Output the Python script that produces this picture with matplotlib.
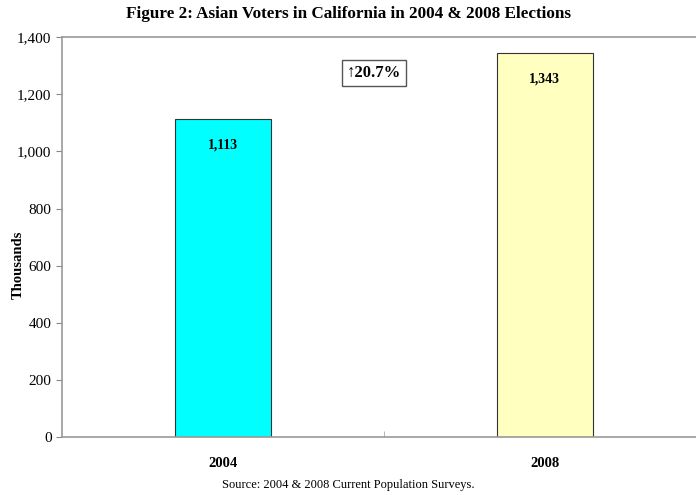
import matplotlib
matplotlib.use('Agg')
import matplotlib.pyplot as plt
from matplotlib.ticker import FuncFormatter

plt.rcParams['font.family'] = ['Liberation Serif', 'DejaVu Serif']

# données
years = ['2004', '2008']
voters = [1113, 1343]
bar_colors = ['#00FFFF', '#FFFFC0']
change_label = '\u219120.7%'
y_ticks = [0, 200, 400, 600, 800, 1000, 1200, 1400]

fig = plt.figure(figsize=(6.96, 4.95), dpi=100)
ax = fig.add_axes([0.089, 0.117, 0.925, 0.808])

x = range(len(years))
bars = ax.bar(x, voters, width=0.30, color=bar_colors, edgecolor='#333333', linewidth=0.8)

# valeurs dans les barres
for b, v in zip(bars, voters):
    ax.text(b.get_x() + b.get_width() / 2, v - 90, f'{v:,}', ha='center', va='center',
            fontsize=10, fontweight='bold')

ax.text(0.47, 1274, change_label, ha='center', va='center', fontsize=12, fontweight='bold',
        bbox=dict(boxstyle='square,pad=0.3', facecolor='white', edgecolor='#555555', linewidth=1))

ax.set_xlim(-0.5, 1.5)
ax.set_ylim(0, 1400)
ax.set_yticks(y_ticks)
ax.yaxis.set_major_formatter(FuncFormatter(lambda v, p: f'{int(v):,}'))
ax.set_xticks(list(x))
ax.set_xticklabels(years, fontsize=10.5, fontweight='bold')
ax.set_xticks([0.5], minor=True)
ax.tick_params(axis='x', which='major', length=0, pad=14)
ax.tick_params(axis='x', which='minor', length=4, color='#aaaaaa', direction='in')
ax.tick_params(axis='y', labelsize=11, length=4, color='#888888', direction='out')

for s in ['left', 'bottom', 'top']:
    ax.spines[s].set_color('#999999')
    ax.spines[s].set_linewidth(1.2)
ax.spines['right'].set_visible(False)

ax.set_ylabel('Thousands', fontsize=10.5, fontweight='bold')
ax.yaxis.set_label_coords(-0.057, 0.43)
fig.suptitle('Figure 2: Asian Voters in California in 2004 & 2008 Elections',
             fontsize=12.3, fontweight='bold', y=0.988)
fig.text(0.5, 0.014, 'Source: 2004 & 2008 Current Population Surveys.', ha='center',
         fontsize=9)

fig.savefig('out.png', dpi=100)
